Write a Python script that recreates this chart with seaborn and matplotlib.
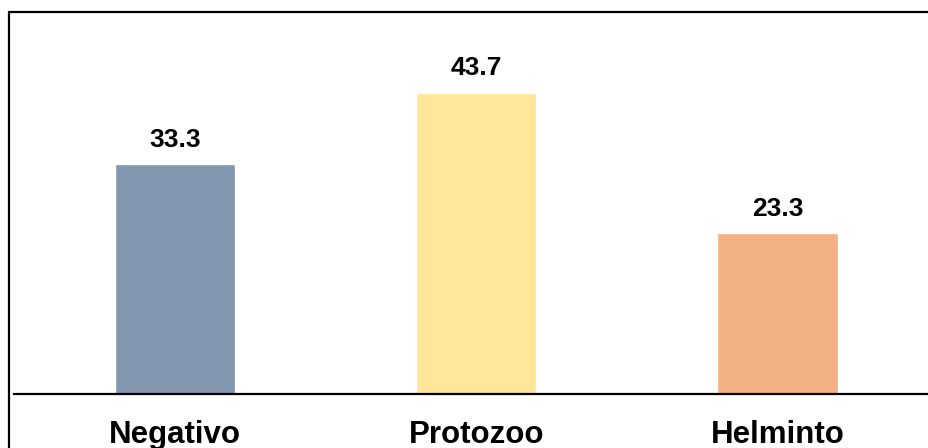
import matplotlib
matplotlib.use("Agg")
import matplotlib.pyplot as plt
from matplotlib.lines import Line2D
import seaborn as sns

categories = ["Negativo", "Protozoo", "Helminto"]
values = [33.3, 43.7, 23.3]
colors = ["#8497B0", "#FFE699", "#F4B183"]

sns.set_style("white")
plt.rcParams["font.family"] = ["Liberation Sans", "DejaVu Sans"]
plt.rcParams["text.color"] = "black"
plt.rcParams["xtick.color"] = "black"

W, H = 929, 448
fig = plt.figure(figsize=(W / 100, H / 100), dpi=100)
ax = fig.add_axes([14 / W, 54 / H, 915 / W, 382 / H])

sns.barplot(x=categories, y=values, hue=categories, palette=colors,
            width=0.4, legend=False, ax=ax, saturation=1)

ax.set_xlim(-0.534, 2.503)
ax.set_ylim(0, 55.4)
ax.set_yticks([])
ax.set_xlabel("")
for side in ["top", "right", "left"]:
    ax.spines[side].set_visible(False)
ax.spines["bottom"].set_linewidth(1.6)
ax.spines["bottom"].set_color("black")
ax.tick_params(axis="x", length=0, pad=19, labelcolor="black")
for lab in ax.get_xticklabels():
    lab.set_fontsize(22.5)
    lab.set_fontweight("bold")

for cont in ax.containers:
    ax.bar_label(cont, fmt="%.1f", padding=9, fontsize=19,
                 fontweight="bold", color="black")

# outer frame (top and left edges visible)
fig.add_artist(Line2D([9 / W, 1.0], [1 - 12 / H, 1 - 12 / H], color="black", lw=1.6))
fig.add_artist(Line2D([9 / W, 9 / W], [0, 1 - 12 / H], color="black", lw=1.6))

fig.savefig("out.png", dpi=100)
